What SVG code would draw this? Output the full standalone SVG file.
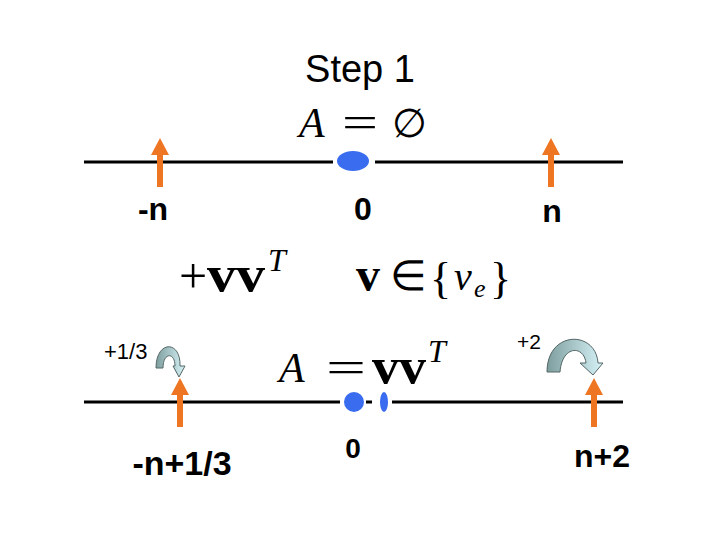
<svg xmlns="http://www.w3.org/2000/svg" width="720" height="540" viewBox="0 0 720 540">
<style>
.lbl{font-family:"Liberation Sans",Arial,sans-serif;font-weight:bold;fill:#000}
.sm{font-family:"Liberation Sans",Arial,sans-serif;fill:#000}
.m{font-family:"Liberation Serif","Times New Roman",serif;fill:#000}
.i{font-style:italic}
.b{font-weight:bold}
.axis{stroke:#000;stroke-width:3;fill:none}
.pin{fill:#EE7522}
.dot{fill:#3A6CF0}
.turn{fill:url(#g);stroke:#556666;stroke-width:1}
</style>
<defs>
<linearGradient id="g" x1="0" y1="0" x2="1" y2="0">
<stop offset="0" stop-color="#7E9E9E"/>
<stop offset="1" stop-color="#D6F2F7"/>
</linearGradient>
<path id="up" d="M-3,0 L-3,-32 L-9,-32 L0,-49 L9,-32 L3,-32 L3,0 Z"/>
</defs>
<rect width="720" height="540" fill="#fff"/>
<text class="sm" x="360" y="82" font-size="38" text-anchor="middle">Step 1</text>
<g id="formula-top">
<text class="m i" x="299" y="137" font-size="42">A</text>
<text class="m" x="342" y="137" font-size="44" textLength="36" lengthAdjust="spacingAndGlyphs">=</text>
<text class="m" x="392" y="137" font-size="40">∅</text>
</g>
<g id="connectors">
<line class="axis" x1="84" y1="162" x2="333" y2="162"/>
<line class="axis" x1="375" y1="162" x2="623" y2="162"/>
<line class="axis" x1="84" y1="402" x2="340" y2="402"/>
<line class="axis" x1="366" y1="402" x2="372" y2="402"/>
<line class="axis" x1="392" y1="402" x2="623" y2="402"/>
</g>
<g id="node-zero-top"><ellipse class="dot" cx="353" cy="161" rx="16" ry="10"/></g>
<g id="node-minus-n"><use href="#up" x="160" y="187" class="pin"/></g>
<g id="node-n"><use href="#up" x="551" y="187" class="pin"/></g>
<text class="lbl" x="153" y="220" font-size="32" text-anchor="middle">-n</text>
<text class="lbl" x="363" y="220" font-size="32" text-anchor="middle">0</text>
<text class="lbl" x="552" y="222" font-size="32" text-anchor="middle">n</text>
<g id="formula-mid">
<text class="m" x="179" y="293" font-size="50">+</text>
<text class="m b" x="207" y="291" font-size="50" textLength="58" lengthAdjust="spacingAndGlyphs">vv</text>
<text class="m i" x="268" y="271" font-size="32">T</text>
<text class="m b" x="356" y="291" font-size="48">v</text>
<text class="m" x="390" y="290" font-size="42">∈</text>
<text class="m" x="430" y="293" font-size="44">{</text>
<text class="m i" x="454" y="290" font-size="40">v</text>
<text class="m i" x="474" y="297" font-size="26">e</text>
<text class="m" x="490" y="293" font-size="44">}</text>
</g>
<g id="formula-bottom">
<text class="m i" x="279" y="382" font-size="42">A</text>
<text class="m" x="326" y="382" font-size="44" textLength="40" lengthAdjust="spacingAndGlyphs">=</text>
<text class="m b" x="372" y="383" font-size="50" textLength="54" lengthAdjust="spacingAndGlyphs">vv</text>
<text class="m i" x="428" y="362" font-size="32">T</text>
</g>
<g id="node-zero-bottom">
<circle class="dot" cx="354" cy="402" r="10"/>
<ellipse class="dot" cx="384" cy="402" rx="4" ry="10"/>
</g>
<g id="node-minus-n-third">
<use href="#up" x="180" y="427" class="pin"/>
<path class="turn" d="M156,368 C156,340 181,340 180,366 L185,366 L179,377 L173,366 L175,366 C175,352 163,352 163,368 Z"/>
<text class="sm" x="104" y="359" font-size="22">+1/3</text>
</g>
<g id="node-n-plus-2">
<use href="#up" x="594" y="427" class="pin"/>
<path class="turn" d="M547,372 C547,330 596,330 598,363 L603,363 L593,375 L580,363 L586,363 C584,345 562,345 560,372 Z"/>
<text class="sm" x="517" y="349" font-size="21">+2</text>
</g>
<text class="lbl" x="182" y="475" font-size="34" text-anchor="middle">-n+1/3</text>
<text class="lbl" x="353" y="458" font-size="28" text-anchor="middle">0</text>
<text class="lbl" x="602" y="467" font-size="32" text-anchor="middle">n+2</text>
</svg>
